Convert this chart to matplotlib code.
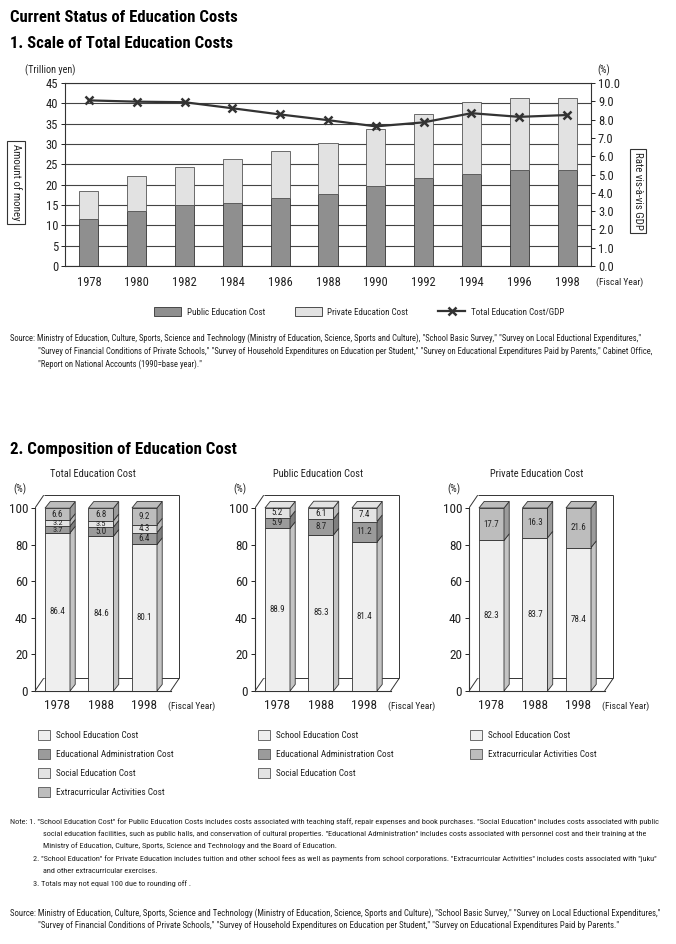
import matplotlib
matplotlib.use('Agg')
import matplotlib.pyplot as plt
from matplotlib.patches import Polygon, Patch
from matplotlib.lines import Line2D
import numpy as np

W, H = 676, 944
plt.rcParams['font.family'] = ['Liberation Sans Narrow', 'Roboto Condensed', 'Liberation Sans', 'DejaVu Sans']
TXT = '#222222'

# ---------------- data ----------------
years = ['1978', '1980', '1982', '1984', '1986', '1988', '1990', '1992', '1994', '1996', '1998']
public_cost = [11.6, 13.6, 15.0, 15.5, 16.7, 17.7, 19.7, 21.6, 22.6, 23.5, 23.5]
private_cost = [6.9, 8.5, 9.3, 10.7, 11.5, 12.5, 13.9, 15.8, 17.7, 17.7, 17.7]
gdp_ratio = [9.05, 8.98, 8.95, 8.62, 8.28, 7.97, 7.63, 7.85, 8.35, 8.15, 8.25]

comp_years = ['1978', '1988', '1998']
total_school = [86.4, 84.6, 80.1]
total_admin = [3.7, 5.0, 6.4]
total_social = [3.2, 3.5, 4.3]
total_extra = [6.6, 6.8, 9.2]
public_school = [88.9, 85.3, 81.4]
public_admin = [5.9, 8.7, 11.2]
public_social = [5.2, 6.1, 7.4]
private_school = [82.3, 83.7, 78.4]
private_extra = [17.7, 16.3, 21.6]

left_ticks = [0, 5, 10, 15, 20, 25, 30, 35, 40, 45]
right_ticks = [0, 1, 2, 3, 4, 5, 6, 7, 8, 9, 10]
pct_ticks = [0, 20, 40, 60, 80, 100]

# ---------------- helpers ----------------
fig = plt.figure(figsize=(W / 100, H / 100), dpi=100)
renderer = fig.canvas.get_renderer()


def add_ax(l, t, r, b):
    return fig.add_axes([l / W, 1 - b / H, (r - l) / W, (b - t) / H])


def ftext(x, y, s, **kw):
    kw.setdefault('color', TXT)
    return fig.text(x / W, 1 - y / H, s, **kw)


def ftext_fit(x, y, s, width, **kw):
    t = ftext(x, y, s, **kw)
    fs = t.get_fontsize()
    w = t.get_window_extent(renderer).width
    t.set_fontsize(fs * width / w)
    return t


def text_block(lines, width):
    # first line sets the size; the rest of the block uses the same size
    x0, y0, s0 = lines[0]
    t0 = ftext_fit(x0, y0, s0, width, fontsize=6, va='center')
    fs = t0.get_fontsize()
    for lx, ly, s in lines[1:]:
        ftext(lx, ly, s, fontsize=fs, va='center')


def shade(c, f=0.82):
    c = matplotlib.colors.to_rgb(c)
    return tuple(v * f for v in c)


# ---------------- titles ----------------
ftext_fit(10, 17, 'Current Status of Education Costs', 227, fontsize=10, fontweight='bold',
          va='center', color='black')
ftext_fit(10, 44, '1. Scale of Total Education Costs', 223, fontsize=10, fontweight='bold',
          va='center', color='black')

# ---------------- chart 1 ----------------
ax = add_ax(65, 83, 591, 266)
x = np.arange(len(years))
ax.bar(x, public_cost, width=0.4, color='#8f8f8f', edgecolor='#333333', lw=0.6, zorder=3,
       label='Public Education Cost')
ax.bar(x, private_cost, bottom=public_cost, width=0.4, color='#e2e2e2', edgecolor='#555555',
       lw=0.6, zorder=3, label='Private Education Cost')
ax.set_xlim(-0.5, len(years) - 0.5)
ax.set_ylim(0, 45)
ax.set_yticks(left_ticks)
ax.set_xticks(x)
ax.set_xticklabels(years)
ax.yaxis.grid(True, color='#444444', lw=0.8)
ax.set_axisbelow(True)
ax.tick_params(axis='x', length=0, pad=7, labelsize=9, colors=TXT)
ax.tick_params(axis='y', length=3, width=0.7, pad=2, labelsize=9, colors=TXT)
for s in ['left', 'right', 'top', 'bottom']:
    ax.spines[s].set_color('#333333')
    ax.spines[s].set_linewidth(0.8)

ax2 = ax.twinx()
ax2.plot(x, gdp_ratio, color='#333333', lw=1.6, marker='x', ms=6, mew=1.8, zorder=5)
ax2.set_ylim(0, 10)
ax2.set_yticks(right_ticks)
ax2.set_yticklabels([f'{v:.1f}' for v in right_ticks])
ax2.tick_params(axis='y', length=3, width=0.7, pad=2, labelsize=9, colors=TXT)
for s in ['left', 'right', 'top', 'bottom']:
    ax2.spines[s].set_visible(False)

ftext(25, 70, '(Trillion yen)', fontsize=7.3, va='center')
ftext(597, 70, '(%)', fontsize=7.3, va='center')
ftext(596, 282, '(Fiscal Year)', fontsize=6.8, va='center')
box = dict(boxstyle='square,pad=0.3', fc='white', ec='#333333', lw=0.8)
ftext(16, 182, 'Amount of money', fontsize=7.8, rotation=270, ha='center', va='center', bbox=box)
ftext(638, 191, 'Rate vis-à-vis GDP', fontsize=7.8, rotation=270, ha='center', va='center', bbox=box)

handles = [Patch(facecolor='#8f8f8f', edgecolor='#333333', lw=0.6),
           Patch(facecolor='#e2e2e2', edgecolor='#333333', lw=0.6),
           Line2D([], [], color='#333333', lw=1.6, marker='x', ms=6, mew=1.8)]
leg = fig.legend(handles, ['Public Education Cost', 'Private Education Cost', 'Total Education Cost/GDP'],
                 loc='center', bbox_to_anchor=(359 / W, 1 - 312 / H), ncol=3, frameon=False,
                 fontsize=6.5, handlelength=3.0, handleheight=1.1, columnspacing=3.3,
                 handletextpad=0.6)
for t in leg.get_texts():
    t.set_color(TXT)

text_block([(10, 338, 'Source: Ministry of Education, Culture, Sports, Science and Technology (Ministry of Education, Science, Sports and Culture), "School Basic Survey," "Survey on Local Eductional Expenditures,"'),
            (38, 351, '"Survey of Financial Conditions of Private Schools," "Survey of Household Expenditures on Education per Student," "Survey on Educational Expenditures Paid by Parents," Cabinet Office,'),
            (38, 364, '"Report on National Accounts (1990=base year)."')], 635)

# ---------------- section 2 ----------------
ftext_fit(10, 450, '2. Composition of Education Cost', 226, fontsize=10, fontweight='bold',
          va='center', color='black')

C_SCHOOL = '#efefef'
C_ADMIN = '#9b9b9b'
C_SOCIAL = '#e3e3e3'
C_EXTRA = '#bdbdbd'

BW = 0.575
BDX, BDY = 0.12, 3.6
WDX, WDY = 0.2, 7.0
XL, XR = -0.517, 3.0
FR = 2.6
PXU = 43.5
PYU = 1.83
YTOP = 112


def comp_chart(left, title, title_dx, segments, colors):
    right = left + (XR - XL) * PXU
    top = 691 - YTOP * PYU
    a = add_ax(left, top, right, 691)
    a.set_xlim(XL, XR)
    a.set_ylim(0, YTOP)
    xs = np.arange(len(comp_years))
    lk = dict(color='#333333', lw=0.7, zorder=1, solid_capstyle='butt')
    a.plot([XL, XL + WDX], [100, 100 + WDY], **lk)
    a.plot([XL + WDX, FR + WDX], [100 + WDY, 100 + WDY], **lk)
    a.plot([FR + WDX, FR + WDX], [100 + WDY, WDY], **lk)
    a.plot([XL + WDX, FR + WDX], [WDY, WDY], **lk)
    a.plot([XL, XL + WDX], [0, WDY], **lk)
    a.plot([FR, FR + WDX], [0, WDY], **lk)
    for i in xs:
        bottom = 0.0
        for vals, c in zip(segments, colors):
            v = vals[i]
            a.bar(i, v, bottom=bottom, width=BW, color=c, edgecolor='#333333', lw=0.6, zorder=3)
            xr = i + BW / 2
            side = Polygon([(xr, bottom), (xr + BDX, bottom + BDY), (xr + BDX, bottom + v + BDY),
                            (xr, bottom + v)], closed=True, fc=shade(c), ec='#333333', lw=0.6,
                           zorder=3)
            a.add_patch(side)
            a.text(i, bottom + v / 2, f'{v:.1f}', ha='center', va='center',
                   fontsize=6.5 if v > 4 else 6.0, color=TXT, zorder=4)
            bottom += v
        xlft = i - BW / 2
        topf = Polygon([(xlft, bottom), (xlft + BDX, bottom + BDY), (i + BW / 2 + BDX, bottom + BDY),
                        (i + BW / 2, bottom)], closed=True, fc=colors[-1], ec='#333333', lw=0.6,
                       zorder=3)
        a.add_patch(topf)
    a.spines['top'].set_visible(False)
    a.spines['right'].set_visible(False)
    a.spines['left'].set_bounds(0, 100)
    a.spines['bottom'].set_bounds(XL, FR)
    for s in ['left', 'bottom']:
        a.spines[s].set_color('#333333')
        a.spines[s].set_linewidth(0.8)
    a.set_yticks(pct_ticks)
    a.set_xticks(xs)
    a.set_xticklabels(comp_years)
    a.tick_params(axis='y', length=3, width=0.7, pad=2, labelsize=9.5, colors=TXT)
    a.tick_params(axis='x', length=0, pad=6, labelsize=9.5, colors=TXT)
    a.patch.set_alpha(0)
    ftext(left + title_dx, 474, title, fontsize=7.5, ha='center', va='center')
    ftext(left - 22, 489, '(%)', fontsize=7.5, va='center')
    ftext(left + 133, 706, '(Fiscal Year)', fontsize=6.8, va='center')
    return a


comp_chart(35, 'Total Education Cost', 58,
           [total_school, total_admin, total_social, total_extra],
           [C_SCHOOL, C_ADMIN, C_SOCIAL, C_EXTRA])
comp_chart(255, 'Public Education Cost', 63,
           [public_school, public_admin, public_social],
           [C_SCHOOL, C_ADMIN, C_SOCIAL])
comp_chart(469, 'Private Education Cost', 68,
           [private_school, private_extra],
           [C_SCHOOL, C_EXTRA])


def comp_legend(xpx, labels, colors):
    hs = [Patch(facecolor=c, edgecolor='#555555', lw=0.6) for c in colors]
    lg = fig.legend(hs, labels, loc='upper left', bbox_to_anchor=(xpx / W, 1 - 730 / H),
                    frameon=False, fontsize=6.7, handlelength=1.3, handleheight=1.3,
                    labelspacing=0.95, handletextpad=0.6, borderpad=0, borderaxespad=0)
    for t in lg.get_texts():
        t.set_color(TXT)


comp_legend(38, ['School Education Cost', 'Educational Administration Cost',
                 'Social Education Cost', 'Extracurricular Activities Cost'],
            [C_SCHOOL, C_ADMIN, C_SOCIAL, C_EXTRA])
comp_legend(258, ['School Education Cost', 'Educational Administration Cost',
                  'Social Education Cost'],
            [C_SCHOOL, C_ADMIN, C_SOCIAL])
comp_legend(470, ['School Education Cost', 'Extracurricular Activities Cost'],
            [C_SCHOOL, C_EXTRA])

text_block([
    (10, 822, 'Note: 1. "School Education Cost" for Public Education Costs includes costs associated with teaching staff, repair expenses and book purchases. "Social Education" includes costs associated with public'),
    (43, 834, 'social education facilities, such as public halls, and conservation of cultural properties. "Educational Administration" includes costs associated with personnel cost and their training at the'),
    (43, 846, 'Ministry of Education, Culture, Sports, Science and Technology and the Board of Education.'),
    (33, 859, '2. "School Education" for Private Education includes tuition and other school fees as well as payments from school corporations. "Extracurricular Activities" includes costs associated with "juku"'),
    (43, 871, 'and other extracurricular exercises.'),
    (33, 884, '3. Totals may not equal 100 due to rounding off .'),
], 655)
text_block([
    (10, 913, 'Source: Ministry of Education, Culture, Sports, Science and Technology (Ministry of Education, Science, Sports and Culture), "School Basic Survey," "Survey on Local Eductional Expenditures,"'),
    (38, 926, '"Survey of Financial Conditions of Private Schools," "Survey of Household Expenditures on Education per Student," "Survey on Educational Expenditures Paid by Parents."'),
], 650)

fig.savefig('out.png', dpi=100)
